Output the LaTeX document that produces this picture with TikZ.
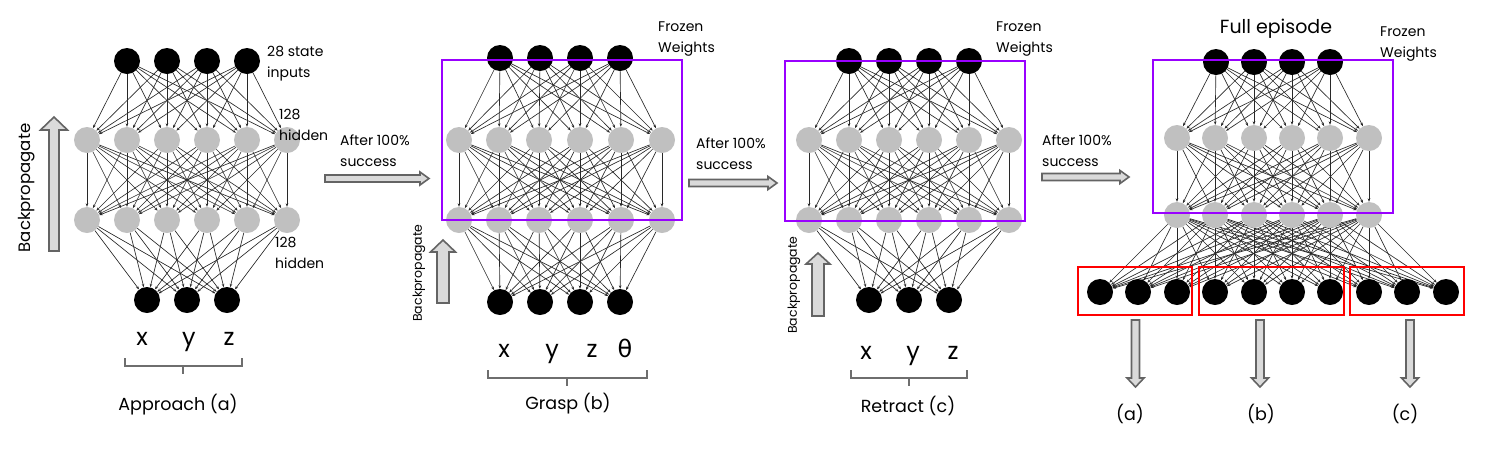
\documentclass[tikz,border=0pt]{standalone}
\usepackage{fontspec}
\setmainfont{Poppins}
\newfontfamily\grk{DejaVu Sans}
\usetikzlibrary{arrows.meta,backgrounds}
\definecolor{nodegray}{RGB}{192,192,192}
\definecolor{wirecol}{RGB}{40,40,40}
\definecolor{arrfill}{RGB}{218,218,218}
\definecolor{arrdraw}{RGB}{100,100,100}
\definecolor{bracecol}{RGB}{110,110,110}
\definecolor{frozen}{RGB}{153,0,255}
\definecolor{outred}{RGB}{255,0,0}
\newcommand{\fatright}[3]{%
  \draw[fatarr] (#1,{#3-3.5}) -- ({#2-9},{#3-3.5}) -- ({#2-9},{#3-6.5}) -- (#2,#3)
    -- ({#2-9},{#3+6.5}) -- ({#2-9},{#3+3.5}) -- (#1,{#3+3.5}) -- cycle;}
\newcommand{\fatup}[6]{%
  \draw[fatarr] ({#1-#4},#2) -- ({#1-#4},{#3+#6}) -- ({#1-#5},{#3+#6}) -- (#1,#3)
    -- ({#1+#5},{#3+#6}) -- ({#1+#4},{#3+#6}) -- ({#1+#4},#2) -- cycle;}
\newcommand{\fatdown}[6]{%
  \draw[fatarr] ({#1-#4},#2) -- ({#1-#4},{#3-#6}) -- ({#1-#5},{#3-#6}) -- (#1,#3)
    -- ({#1+#5},{#3-#6}) -- ({#1+#4},{#3-#6}) -- ({#1+#4},#2) -- cycle;}
\begin{document}
\begin{tikzpicture}[x=1pt,y=-1pt,
  blk/.style={circle, fill=black, minimum size=26pt, inner sep=0pt},
  gry/.style={circle, fill=nodegray, minimum size=26pt, inner sep=0pt},
  wire/.style={draw=wirecol, line width=0.65pt, -{Stealth[length=3.5pt,width=2.6pt]}},
  fatarr/.style={fill=arrfill, draw=arrdraw, line width=1.6pt, line join=miter},
  brace/.style={draw=bracecol, line width=1.5pt},
  lbl/.style={font=\fontsize{14}{20.5}\selectfont, align=left, anchor=north west, inner sep=0pt},
  var/.style={font=\fontsize{24}{28}\selectfont, anchor=base, inner sep=0pt},
  captxt/.style={font=\fontsize{17.5}{21}\selectfont, anchor=base, inner sep=0pt},
  frozenbox/.style={draw=frozen, line width=1.9pt},
  redbox/.style={draw=outred, line width=2.6pt}]
\begin{pgfonlayer}{background}
\fill[white] (0,0) rectangle (1499,451);
\end{pgfonlayer}
\useasboundingbox (0,0) rectangle (1499,451);

% ---------- Network 1: Approach ----------
\foreach \i/\x in {1/127,2/167,3/207,4/247} \node[blk] (At\i) at (\x,61) {};
\foreach \i/\x in {1/87,2/127,3/167,4/207,5/247,6/287} \node[gry] (Ah\i) at (\x,140) {};
\foreach \i/\x in {1/87,2/127,3/167,4/207,5/247,6/287} \node[gry] (Ag\i) at (\x,220) {};
\foreach \i/\x in {1/147,2/187,3/227} \node[blk] (Ao\i) at (\x,300) {};
\begin{pgfonlayer}{background}
\foreach \i in {1,...,4} \foreach \j in {1,...,6} \draw[wire] (At\i) -- (Ah\j);
\foreach \i in {1,...,6} \foreach \j in {1,...,6} \draw[wire] (Ah\i) -- (Ag\j);
\foreach \i in {1,...,6} \foreach \j in {1,...,3} \draw[wire] (Ag\i) -- (Ao\j);
\end{pgfonlayer}
\node[lbl] (Alin) at (267,46) {28 state\\inputs};
\node[lbl] (Alh1) at (279,109) {128\\hidden};
\node[lbl] (Alh2) at (275,237) {128\\hidden};
\node[var] (Ax) at (142,345) {x};
\node[var] (Ay) at (189,345) {y};
\node[var] (Az) at (229,345) {z};
\draw[brace] (125,358) -- (125,366) -- (242,366) -- (242,358);
\draw[brace] (183,366) -- (183,374);
\node[captxt] (Acap) at (178,410) {Approach (a)};
\fatup{54}{251}{117}{5}{13.5}{13}
\node[rotate=90, font=\fontsize{16.5}{20}\selectfont, inner sep=0pt] (Abp) at (27,188) {Backpropagate};

% arrow 1
\node[lbl] (T1) at (340,135) {After 100\%\\success};
\fatright{325}{429}{178.5}

% ---------- Network 2: Grasp ----------
\foreach \i/\x in {1/500,2/540,3/580,4/620} \node[blk] (Bt\i) at (\x,58) {};
\foreach \i/\x in {1/459,2/499,3/539,4/580,5/621,6/662} \node[gry] (Bh\i) at (\x,140) {};
\foreach \i/\x in {1/459,2/499,3/539,4/580,5/621,6/662} \node[gry] (Bg\i) at (\x,220) {};
\foreach \i/\x in {1/500,2/540,3/580,4/620} \node[blk] (Bo\i) at (\x,302) {};
\begin{pgfonlayer}{background}
\foreach \i in {1,...,4} \foreach \j in {1,...,6} \draw[wire] (Bt\i) -- (Bh\j);
\foreach \i in {1,...,6} \foreach \j in {1,...,6} \draw[wire] (Bh\i) -- (Bg\j);
\foreach \i in {1,...,6} \foreach \j in {1,...,4} \draw[wire] (Bg\i) -- (Bo\j);
\end{pgfonlayer}
\draw[frozenbox] (442,60) rectangle (682,220);
\node[lbl] (Bfw) at (658,22) {Frozen\\Weights};
\node[var] (Bx) at (504,357) {x};
\node[var] (By) at (552,357) {y};
\node[var] (Bz) at (592,357) {z};
\node[var] (Bth) at (625,357) {\grk θ};
\draw[brace] (488,370) -- (488,378) -- (647,378) -- (647,370);
\draw[brace] (567,378) -- (567,386);
\node[captxt] (Bcap) at (568,409) {Grasp (b)};
\fatup{443}{303}{240}{6}{12.5}{12}
\node[rotate=90, font=\fontsize{12.5}{15}\selectfont, inner sep=0pt] (Bbp) at (419,273) {Backpropagate};

% arrow 2
\node[lbl] (T2) at (696,138) {After 100\%\\success};
\fatright{689}{777}{183}

% ---------- Network 3: Retract ----------
\foreach \i/\x in {1/849,2/889,3/929,4/969} \node[blk] (Ct\i) at (\x,61) {};
\foreach \i/\x in {1/809,2/849,3/889,4/929,5/969,6/1009} \node[gry] (Ch\i) at (\x,140) {};
\foreach \i/\x in {1/809,2/849,3/889,4/929,5/969,6/1009} \node[gry] (Cg\i) at (\x,220) {};
\foreach \i/\x in {1/869,2/909,3/949} \node[blk] (Co\i) at (\x,300) {};
\begin{pgfonlayer}{background}
\foreach \i in {1,...,4} \foreach \j in {1,...,6} \draw[wire] (Ct\i) -- (Ch\j);
\foreach \i in {1,...,6} \foreach \j in {1,...,6} \draw[wire] (Ch\i) -- (Cg\j);
\foreach \i in {1,...,6} \foreach \j in {1,...,3} \draw[wire] (Cg\i) -- (Co\j);
\end{pgfonlayer}
\draw[frozenbox] (785,61) rectangle (1025,221);
\node[lbl] (Cfw) at (996,22) {Frozen\\Weights};
\node[var] (Cx) at (866,359) {x};
\node[var] (Cy) at (913,359) {y};
\node[var] (Cz) at (953,359) {z};
\draw[brace] (851,370) -- (851,378) -- (967,378) -- (967,370);
\draw[brace] (909,378) -- (909,386);
\node[captxt] (Ccap) at (908,412) {Retract (c)};
\fatup{818}{316}{253}{6}{12}{11}
\node[rotate=90, font=\fontsize{12.5}{15}\selectfont, inner sep=0pt] (Cbp) at (794,285) {Backpropagate};

% arrow 3
\node[lbl] (T3) at (1042,135) {After 100\%\\success};
\fatright{1042}{1129}{177}

% ---------- Network 4: Full episode ----------
\node[font=\fontsize{19}{23}\selectfont, anchor=base, inner sep=0pt] (Dtitle) at (1276,33) {Full episode};
\foreach \i/\x in {1/1216,2/1254,3/1292,4/1330} \node[blk] (Dt\i) at (\x,62) {};
\foreach \i/\x in {1/1177,2/1215,3/1254,4/1292,5/1330,6/1369} \node[gry] (Dh\i) at (\x,138) {};
\foreach \i/\x in {1/1177,2/1215,3/1254,4/1292,5/1330,6/1369} \node[gry] (Dg\i) at (\x,215) {};
\foreach \i/\x in {1/1100,2/1138,3/1177,4/1215,5/1254,6/1292,7/1330,8/1369,9/1407,10/1446} \node[blk] (Do\i) at (\x,292) {};
\begin{pgfonlayer}{background}
\foreach \i in {1,...,4} \foreach \j in {1,...,6} \draw[wire] (Dt\i) -- (Dh\j);
\foreach \i in {1,...,6} \foreach \j in {1,...,6} \draw[wire] (Dh\i) -- (Dg\j);
\foreach \i in {1,...,6} \foreach \j in {1,...,10} \draw[wire] (Dg\i) -- (Do\j);
\end{pgfonlayer}
\draw[frozenbox] (1153,60) rectangle (1393,213);
\node[lbl] (Dfw) at (1380,27) {Frozen\\Weights};
\draw[redbox] (1078,267) rectangle (1192,315);
\draw[redbox] (1199,267) rectangle (1344,315);
\draw[redbox] (1350,267) rectangle (1464,315);
\fatdown{1135.5}{320}{387}{4}{8.5}{9}
\fatdown{1260}{320}{387}{4}{8.5}{9}
\fatdown{1410}{320}{387}{4}{8.5}{9}
\node[captxt] (Da) at (1130,420) {(a)};
\node[captxt] (Db) at (1261,420) {(b)};
\node[captxt] (Dc) at (1405,420) {(c)};
\end{tikzpicture}
\end{document}
